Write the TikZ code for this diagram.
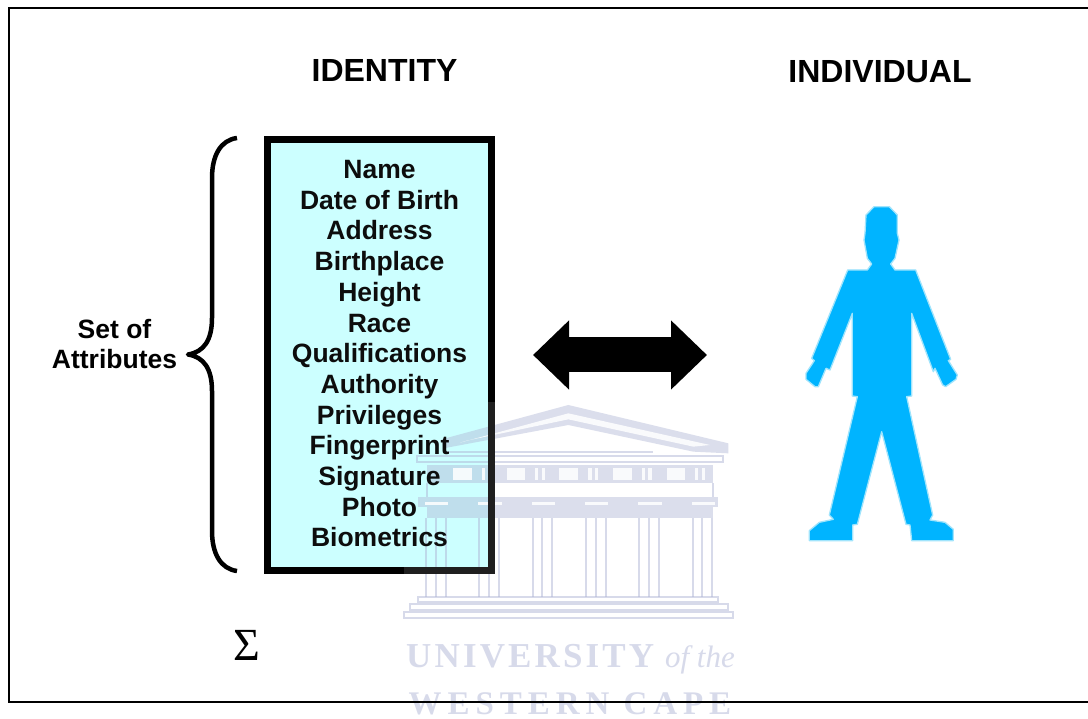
\documentclass[tikz,border=0pt]{standalone}
\usepackage{fontspec}
\usepackage{xcolor}
\usetikzlibrary{arrows.meta}
\setmainfont{Liberation Sans}
\newfontfamily\crestfont[LetterSpace=9]{Liberation Serif}
\newfontfamily\capefont[LetterSpace=18]{Liberation Serif}
\newfontfamily\sigmafont{Liberation Serif}
\definecolor{boxcyan}{RGB}{204,255,255}
\definecolor{personblue}{RGB}{0,180,255}
\definecolor{personedge}{RGB}{160,228,252}
\definecolor{crestblue}{RGB}{176,182,214}
\tikzset{
  heading/.style={font=\bfseries\fontsize{32}{36}\selectfont},
  attrlist/.style={font=\bfseries\fontsize{26.5}{30.7}\selectfont, align=center},
  crestband/.style={fill=crestblue, opacity=0.45},
  crestgap/.style={fill=white, opacity=0.85},
  crestline/.style={draw=crestblue, opacity=0.5, line width=1.8pt},
  cresttext/.style={text=crestblue, opacity=0.5, anchor=base, inner sep=0pt}
}
\begin{document}
\begin{tikzpicture}[x=1pt,y=-1pt]
\useasboundingbox (0,0) rectangle (1088,719);
\fill[white] (0,0) rectangle (1088,719);

% Frame
\draw[line width=2.5pt] (9,8) rectangle (1092,702);

% Headings
\node[heading] (identity) at (384.5,70) {IDENTITY};
\node[heading] (individual) at (880,72) {INDIVIDUAL};

% Attribute box
\node[draw, line width=7pt, fill=boxcyan, minimum width=224pt, minimum height=431pt, inner sep=0pt, outer sep=0pt] (idbox) at (379.5,355) {};

% Brace
\draw[line width=4.5pt, line join=round] (237,138) .. controls (221,140) and (212,155) .. (212,178)
  -- (212,318) .. controls (212,340) and (204,352) .. (188,354.5)
  .. controls (204,357) and (212,369) .. (212,391)
  -- (212,531) .. controls (212,554) and (221,569) .. (237,571);
\node[attrlist] (setlabel) at (114.5,344) {Set of\\Attributes};

% Person
\begin{scope}[shift={(780,190)},scale=0.33333]
\draw[fill=personblue, draw=personedge, line width=1.3pt, line join=round]
  (258,75) -- (282,50) -- (328,50) -- (352,75) -- (352,130) -- (357,150) -- (345,205) -- (332,222)
  -- (345,240) -- (407,240) -- (512,508) -- (505,512) -- (532,555) -- (528,568) -- (497,590) -- (488,585)
  -- (465,535) -- (460,545) -- (395,370) -- (395,618) -- (380,620) -- (458,975) -- (450,990) -- (495,997)
  -- (520,1018) -- (520,1052) -- (395,1052) -- (390,1005) -- (378,1003) -- (305,725) -- (232,1003)
  -- (218,1005) -- (218,1052) -- (88,1052) -- (88,1022) -- (118,997) -- (160,988) -- (148,975)
  -- (232,620) -- (217,618) -- (217,370) -- (150,540) -- (138,535) -- (115,590) -- (105,590) -- (78,568)
  -- (78,550) -- (103,512) -- (95,505) -- (203,240) -- (262,240) -- (275,222) -- (262,205) -- (252,150)
  -- (255,130) -- cycle;
\end{scope}
\coordinate (person) at (707,355);

% Double arrow
\draw[line width=35pt, {Triangle[length=36pt,width=67pt]}-{Triangle[length=36pt,width=67pt]}, shorten <=41.5pt] (idbox.east) -- (person);

% Sigma
\node[font=\sigmafont\fontsize{46}{46}\selectfont] (sigma) at (246.5,645) {Σ};

% Crest, laid over the box
\begin{scope}[shift={(400,400)},scale=0.33333]
\fill[crestband] (125,118) -- (505,15) -- (985,130) -- (985,160) -- (880,155) -- (505,75) -- (130,145) -- cycle;
\fill[crestgap] (180,128) -- (505,40) -- (930,135) -- (880,140) -- (505,58) -- (200,122) -- cycle;
\draw[crestline] (130,157) -- (760,157);
\draw[crestline] (50,167) rectangle (970,187);
\fill[crestband] (80,195) rectangle (940,248);
\foreach \mx in {160,320,478,640,800}
  \fill[crestgap] (\mx,205) rectangle ++(56,35);
\foreach \mx in {265,425,585,745,905}{
  \fill[crestgap] (\mx-20,205) rectangle ++(10,35);
  \fill[crestgap] (\mx,205) rectangle ++(10,35);
}
\draw[crestline] (80,250) -- (80,290) (940,250) -- (940,290);
\fill[crestband] (55,290) rectangle (955,320);
\fill[crestband] (80,320) rectangle (940,355);
\foreach \cx in {75,235,395,555,715,875}{
  \fill[crestgap] (\cx,305) rectangle ++(70,10);
  \draw[crestline] (\cx+3,355) -- (\cx+3,590) (\cx+32,355) -- (\cx+32,590) (\cx+62,355) -- (\cx+62,590);
}
\draw[crestline] (55,590) -- (55,605) -- (955,605) -- (955,590) -- cycle;
\draw[crestline] (30,612) rectangle (985,630);
\draw[crestline] (13,635) rectangle (1000,655);
\end{scope}
\node[cresttext, anchor=base west, font=\crestfont\bfseries\fontsize{35}{35}\selectfont] (univ) at (406,667) {UNIVERSITY};
\node[cresttext, anchor=base east, font=\sigmafont\itshape\fontsize{31}{31}\selectfont] (ofthe) at (735,667) {of the};
\node[cresttext, font=\capefont\bfseries\fontsize{33}{33}\selectfont] (cape) at (570,714) {WESTERN CAPE};
\draw[line width=2.5pt] (404,702) -- (735,702);

% Box edge and list stay dark over the crest
\draw[line width=7pt, black!88] (404,570.5) -- (491.5,570.5) -- (491.5,402);
\node[attrlist, text=black!95] (attrs) at (379.5,353.8) {Name\\Date of Birth\\Address\\Birthplace\\Height\\Race\\Qualifications\\Authority\\Privileges\\Fingerprint\\Signature\\Photo\\Biometrics};
\end{tikzpicture}
\end{document}
